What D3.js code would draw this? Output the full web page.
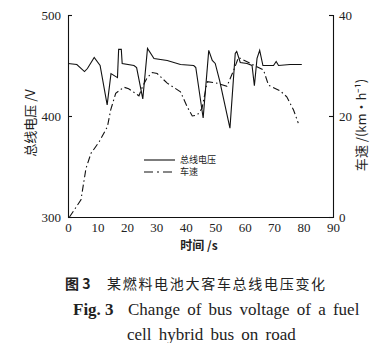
<!DOCTYPE html>
<html>
    <head>
        <meta charset="utf-8">
        <title>Bus voltage</title>
        <style>
body {
    margin: 0;
    background-color: white;
}

svg {
    display: block;
    background-color: white;
}

.num {
    font-family: "Liberation Serif", "DejaVu Serif", serif;
    fill: #222;
}

.cjk {
    font-family: "Noto Sans CJK SC", sans-serif;
    fill: #222;
}

.line {
    fill: none;
    stroke: #111;
    stroke-width: 1.1;
}

</style>
        <script src="https://cdn.jsdelivr.net/npm/d3@7"></script>
    </head>
    <body>
        <script>
// bus voltage (V) against time (s)
var voltTime = [0, 3, 5.6, 6.6, 8.9, 10.9, 13.3, 14.6, 16.8, 17.2, 18.1, 18.4, 22.4, 23.3, 25.4, 27, 29.2, 33.7, 38.2, 42.7, 43.4, 45.9, 47.8, 49, 50, 51.5, 55, 56.8, 57.3, 58.5, 60.8, 62.5, 63.3, 64.2, 65.1, 66.2, 69.8, 70.7, 71.5, 75.4, 79.4];
var voltValues = [452, 451, 444, 447, 458, 450, 411, 442, 438, 466, 466, 452, 450, 448, 417, 467, 457, 455, 451, 450, 448, 398, 465, 455, 452, 435, 388, 462, 464, 453, 452, 450, 430, 457, 465, 450, 450, 454, 450, 451, 451];

// vehicle speed (km/h) against time (s)
var speedTime = [0.5, 4.4, 6.1, 7.8, 10.6, 13.4, 14.5, 16.2, 19, 20.6, 24.1, 25.3, 26.9, 28.6, 30.3, 33.7, 38.2, 40.5, 42.2, 43.9, 45.5, 47.3, 50.6, 54, 56.3, 57.9, 63, 66.4, 68.1, 72, 74.3, 76.6, 78.2];
var speedValues = [0, 3.4, 9.6, 12.6, 14.9, 17.9, 21.2, 24.5, 25.7, 25.4, 24, 25.8, 27.6, 28.6, 28.4, 26.5, 24.8, 21.8, 20, 20.2, 21.5, 26.8, 26.5, 25.9, 29.1, 31.6, 30.1, 29.1, 26.1, 25, 23.8, 21.2, 18.6];

var timeTicks = [0, 10, 20, 30, 40, 50, 60, 70, 80, 90];
var voltTicks = [300, 400, 500];
var speedTicks = [0, 20, 40];

var legendNames = ["总线电压", "车速"];
var captionCn = "某燃料电池大客车总线电压变化";
var captionEn = ["Change of bus voltage of a fuel", "cell hybrid bus on road"];

var width = 372,
    height = 343;

var plotLeft = 68, plotRight = 333, plotTop = 15, plotBottom = 217;

var svg = d3.select('body')
    .append('svg')
    .attr('width', width)
    .attr('height', height);

var x = d3.scaleLinear().domain([0, 90]).range([plotLeft, plotRight]);
var yV = d3.scaleLinear().domain([300, 500]).range([plotBottom, plotTop]);
var yS = d3.scaleLinear().domain([0, 40]).range([plotBottom, plotTop]);

// axes
var xAxis = svg.append("g")
    .attr("transform", "translate(0," + plotBottom + ")")
    .call(d3.axisBottom(x).tickValues(timeTicks).tickSize(0).tickPadding(6));

var lAxis = svg.append("g")
    .attr("transform", "translate(" + plotLeft + ",0)")
    .call(d3.axisLeft(yV).tickValues(voltTicks).tickSize(-4).tickPadding(7));

var rAxis = svg.append("g")
    .attr("transform", "translate(" + plotRight + ",0)")
    .call(d3.axisRight(yS).tickValues(speedTicks).tickSize(-4).tickPadding(6));

[xAxis, lAxis, rAxis].forEach(function (g) {
    g.attr("font-family", null).attr("font-size", null);
    g.select(".domain").attr("stroke", "#111").attr("stroke-width", 1.1);
    g.selectAll(".tick line").attr("stroke", "#111").attr("stroke-width", 1.1);
    g.selectAll("text")
        .attr("class", "num")
        .style("font-family", '"Liberation Serif", serif')
        .style("font-size", "13px");
});
lAxis.selectAll("text").attr("dy", "0.35em");
rAxis.selectAll("text").attr("dy", "0.35em");

// lines
var voltLine = d3.line()
    .x(function (d) { return x(d[0]); })
    .y(function (d) { return yV(d[1]); });

var speedLine = d3.line()
    .x(function (d) { return x(d[0]); })
    .y(function (d) { return yS(d[1]); });

svg.append("path")
    .datum(d3.zip(voltTime, voltValues))
    .attr("class", "line")
    .attr("d", voltLine);

svg.append("path")
    .datum(d3.zip(speedTime, speedValues))
    .attr("class", "line")
    .attr("stroke-dasharray", "7,3,1.5,3")
    .attr("d", speedLine);

// legend
var legend = svg.append("g").attr("transform", "translate(144,160)");
legendNames.forEach(function (name, i) {
    var gy = i * 12;
    legend.append("line")
        .attr("x1", 0).attr("x2", 31)
        .attr("y1", gy).attr("y2", gy)
        .attr("stroke", "#111")
        .attr("stroke-width", 1.1)
        .attr("stroke-dasharray", i === 0 ? null : "9,4,2,4");
    legend.append("text")
        .attr("class", "cjk")
        .attr("x", 36).attr("y", gy)
        .attr("dy", "0.35em")
        .attr("font-size", 9)
        .text(name);
});

// axis titles
svg.append("text")
    .attr("class", "cjk")
    .attr("transform", "translate(35,123) rotate(-90)")
    .attr("text-anchor", "middle")
    .attr("font-size", 13)
    .text("总线电压 /V");

svg.append("text")
    .attr("class", "cjk")
    .attr("transform", "translate(366,125) rotate(-90)")
    .attr("text-anchor", "middle")
    .attr("font-size", 13)
    .text("车速 /(km·h⁻¹)");

svg.append("text")
    .attr("class", "cjk")
    .attr("x", 199).attr("y", 250)
    .attr("text-anchor", "middle")
    .attr("font-size", 12)
    .attr("font-weight", "bold")
    .text("时间 /s");

// caption
var cap = svg.append("text")
    .attr("class", "cjk")
    .attr("x", 65).attr("y", 289)
    .attr("font-size", 14);
cap.append("tspan").attr("font-weight", "bold").text("图 3");
cap.append("tspan").attr("x", 107).attr("letter-spacing", 1.7).text(captionCn);

var en1 = svg.append("text")
    .attr("class", "num")
    .attr("x", 73).attr("y", 315)
    .attr("font-size", 17);
en1.append("tspan").attr("font-weight", "bold").text("Fig. 3");
en1.append("tspan").attr("x", 128).attr("word-spacing", 3).text(captionEn[0]);

svg.append("text")
    .attr("class", "num")
    .attr("x", 127).attr("y", 340)
    .attr("font-size", 17)
    .attr("word-spacing", 3)
    .text(captionEn[1]);

        </script>
    </body>
</html>
